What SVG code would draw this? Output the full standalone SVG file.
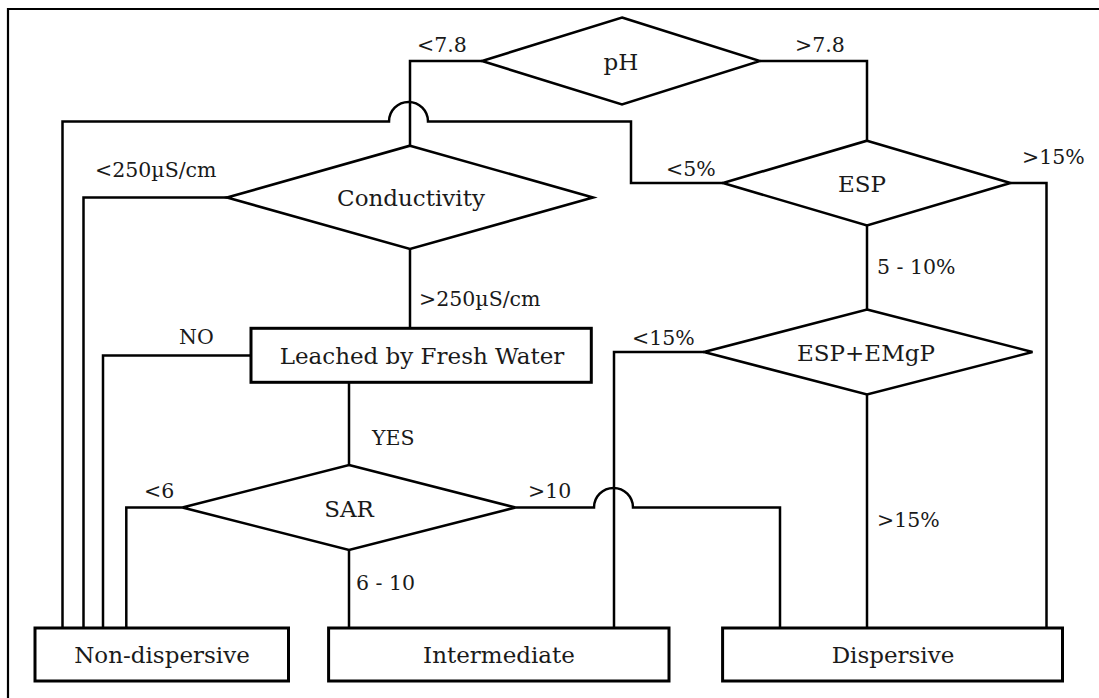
<svg xmlns="http://www.w3.org/2000/svg" width="1099" height="698" viewBox="0 0 1099 698">
<style>
.frame{fill:none;stroke:#000;stroke-width:2.2}
.shape{fill:#fff;stroke:#000;stroke-width:2.6;stroke-linejoin:miter}
.box{fill:#fff;stroke:#000;stroke-width:3}
.conn path{fill:none;stroke:#000;stroke-width:2.5;stroke-linejoin:miter}
.node{font-family:"DejaVu Serif","Liberation Serif",serif;font-size:23px;fill:#1a1a1a;text-anchor:middle}
.lbl{font-family:"DejaVu Serif","Liberation Serif",serif;font-size:20.5px;fill:#1a1a1a}
</style>
<rect width="1099" height="698" fill="#fff"/>
<path class="frame" d="M8,698 V9 H1099"/>
<g class="conn" id="connectors">
<path d="M482,61 H410 V145.7"/>
<path d="M760,61 H867 V140.7"/>
<path d="M723,183 H631 V121.5 H428 A19.5,19.5 0 0 0 389,121.5 H62.5 V628"/>
<path d="M227,197.5 H83.5 V628"/>
<path d="M410,249 V328"/>
<path d="M251,355.5 H103 V628"/>
<path d="M349,382 V465"/>
<path d="M182.4,507.5 H126.3 V628"/>
<path d="M349,550 V628"/>
<path d="M515.6,507.5 H594 A19.5,19.5 0 0 1 633,507.5 H780 V628"/>
<path d="M867,225.5 V309.5"/>
<path d="M1010.4,183 H1046.5 V628"/>
<path d="M704,352 H614 V628"/>
<path d="M867,394.5 V628"/>
<text class="lbl" x="417" y="52">&lt;7.8</text>
<text class="lbl" x="795" y="52">&gt;7.8</text>
<text class="lbl" x="95" y="177">&lt;250µS/cm</text>
<text class="lbl" x="666" y="176">&lt;5%</text>
<text class="lbl" x="1022" y="164">&gt;15%</text>
<text class="lbl" x="877" y="274">5 - 10%</text>
<text class="lbl" x="419" y="306">&gt;250µS/cm</text>
<text class="lbl" x="179" y="344">NO</text>
<text class="lbl" x="632" y="345">&lt;15%</text>
<text class="lbl" x="372" y="445">YES</text>
<text class="lbl" x="144" y="498">&lt;6</text>
<text class="lbl" x="528" y="498">&gt;10</text>
<text class="lbl" x="356" y="590">6 - 10</text>
<text class="lbl" x="877" y="527">&gt;15%</text>
</g>
<g id="ph">
<polygon class="shape" points="622,17.5 760,61 622,104.5 482,61"/>
<text class="node" x="621" y="69.5">pH</text>
</g>
<g id="conductivity">
<polygon class="shape" points="410,145.7 593,197.5 410,249 227,197.5"/>
<text class="node" x="411" y="205.5">Conductivity</text>
</g>
<g id="esp">
<polygon class="shape" points="867,140.7 1010.4,183 867,225.5 723,183"/>
<text class="node" x="862" y="191.5">ESP</text>
</g>
<g id="esp-emgp">
<polygon class="shape" points="867,309.5 1032.5,352 867,394.5 704,352"/>
<text class="node" x="866" y="360.5">ESP+EMgP</text>
</g>
<g id="leached">
<rect class="box" x="251" y="328.3" width="340.3" height="54"/>
<text class="node" x="422" y="363.5">Leached by Fresh Water</text>
</g>
<g id="sar">
<polygon class="shape" points="349,465 515.6,507.5 349,550 182.4,507.5"/>
<text class="node" x="349" y="516.5">SAR</text>
</g>
<g id="non-dispersive">
<rect class="box" x="35" y="628" width="253.5" height="53"/>
<text class="node" x="162" y="663">Non-dispersive</text>
</g>
<g id="intermediate">
<rect class="box" x="328.6" y="628" width="340.4" height="53"/>
<text class="node" x="499" y="663">Intermediate</text>
</g>
<g id="dispersive">
<rect class="box" x="722.6" y="628" width="339.9" height="53"/>
<text class="node" x="893" y="663">Dispersive</text>
</g>
</svg>
